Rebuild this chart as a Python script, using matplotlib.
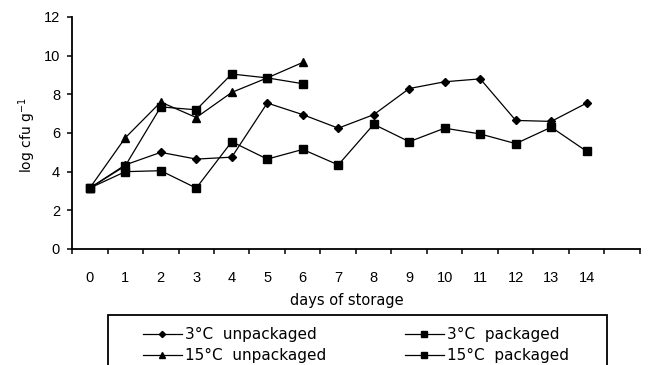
import matplotlib.pyplot as plt
from matplotlib.patches import Rectangle

plt.rcParams['font.family'] = ['Liberation Sans', 'DejaVu Sans']

days = list(range(15))
day_labels = [str(d) for d in days]

# log cfu/g readings per storage condition
unpack_3 = [3.15, 4.35, 5.0, 4.65, 4.75, 7.55, 6.95, 6.25, 6.95, 8.3, 8.65, 8.8, 6.65, 6.6, 7.55]
pack_3 = [3.15, 4.0, 4.05, 3.15, 5.55, 4.65, 5.15, 4.35, 6.45, 5.55, 6.25, 5.95, 5.45, 6.3, 5.05]
unpack_15 = [3.15, 5.75, 7.6, 6.8, 8.1, 8.85, 9.65]
pack_15 = [3.15, 4.3, 7.35, 7.2, 9.05, 8.85, 8.55]

W, H = 649, 365
fig = plt.figure(figsize=(W / 100, H / 100), dpi=100)
ax = fig.add_axes([72 / W, 1 - 249 / H, 568 / W, 232 / H])

kw = dict(color='black', lw=0.9, mfc='black', mec='black')
l1, = ax.plot(days, unpack_3, marker='D', ms=4.5, **kw)
l2, = ax.plot(days, pack_3, marker='s', ms=6, **kw)
l3, = ax.plot(days[:len(unpack_15)], unpack_15, marker='^', ms=6, **kw)
l4, = ax.plot(days[:len(pack_15)], pack_15, marker='s', ms=6, **kw)

ax.set_xlim(-0.5, 15.5)
ax.set_ylim(0, 12)
ax.set_yticks(range(0, 13, 2))
ax.set_xticks([d - 0.5 for d in range(17)])
ax.set_xticklabels([])
ax.set_xticks(days, minor=True)
ax.set_xticklabels(day_labels, minor=True, fontsize=10.5)
ax.tick_params(axis='x', which='minor', length=0, pad=16)
ax.tick_params(axis='x', which='major', length=3.6, width=1.1, direction='out')
ax.tick_params(axis='y', length=3.6, width=1.1, direction='out', labelsize=10.5, pad=5)

for side in ['top', 'right']:
    ax.spines[side].set_visible(False)
ax.spines['left'].set_linewidth(1.3)
ax.spines['bottom'].set_linewidth(1.3)

fig.text(347 / W, 1 - 300 / H, 'days of storage', fontsize=10.5,
         family='DejaVu Sans', ha='center', va='center')
fig.text(27 / W, 1 - 135 / H, 'log cfu g$^{-1}$', fontsize=10,
         family='DejaVu Sans', rotation=90, ha='center', va='center')

# legend box, cut off by the bottom edge like the original
fig.patches.append(Rectangle((108 / W, -0.05), 499 / W, 0.05 + (H - 315) / H,
                             transform=fig.transFigure, fill=False,
                             edgecolor='black', lw=1.3))

leg_kw = dict(loc='upper left', frameon=False, handlelength=2.55,
              handletextpad=0.2, borderpad=0, borderaxespad=0,
              labelspacing=0.4, markerscale=0.7,
              prop={'family': 'DejaVu Sans', 'size': 11})
fig.legend([l1, l3], ['3°C  unpackaged', '15°C  unpackaged'],
           bbox_to_anchor=(143 / W, 1 - 327 / H), **leg_kw)
fig.legend([l2, l4], ['3°C  packaged', '15°C  packaged'],
           bbox_to_anchor=(405 / W, 1 - 327 / H), **leg_kw)

fig.savefig('out.png', dpi=100)
